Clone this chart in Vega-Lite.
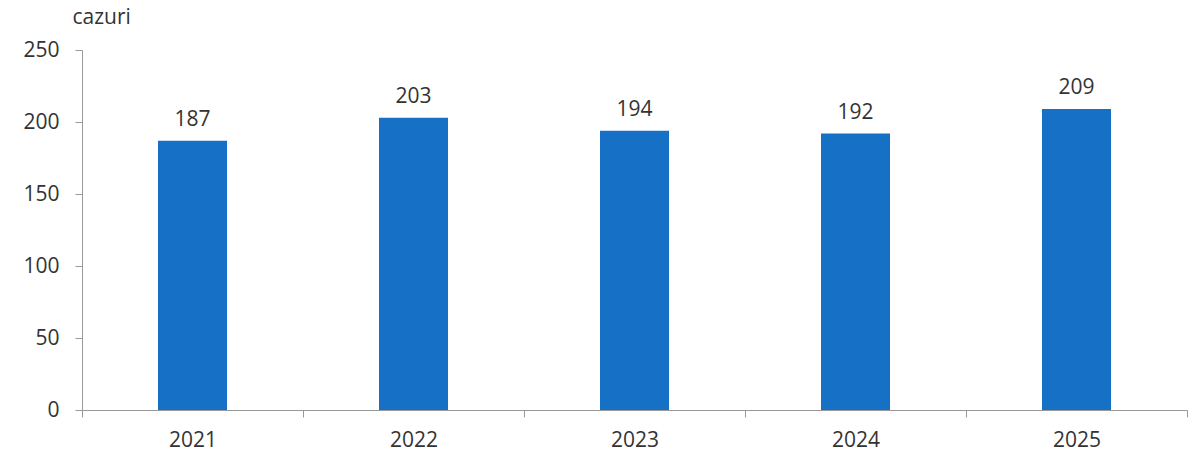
{
  "$schema": "https://vega.github.io/schema/vega-lite/v6.json",
  "width": 1105,
  "height": 360,
  "autosize": {"type": "none"},
  "padding": {"left": 82, "top": 50, "right": 13, "bottom": 61},
  "background": "white",
  "config": {
    "view": {"stroke": null},
    "font": "Open Sans",
    "axis": {"labelFont": "Open Sans", "titleFont": "Open Sans"}
  },
  "data": {
    "values": [
      {"year": "2021", "cazuri": 187},
      {"year": "2022", "cazuri": 203},
      {"year": "2023", "cazuri": 194},
      {"year": "2024", "cazuri": 192},
      {"year": "2025", "cazuri": 209}
    ]
  },
  "encoding": {
    "x": {
      "field": "year",
      "type": "nominal",
      "scale": {"paddingInner": 0, "paddingOuter": 0},
      "axis": {
        "title": null,
        "labelAngle": 0,
        "tickBand": "extent",
        "tickSize": 7,
        "tickColor": "#999999",
        "domainColor": "#999999",
        "labelFontSize": 21,
        "labelColor": "#333333",
        "labelPadding": 12
      }
    },
    "y": {
      "field": "cazuri",
      "type": "quantitative",
      "scale": {"domain": [0, 250]},
      "axis": {
        "values": [0, 50, 100, 150, 200, 250],
        "grid": false,
        "title": "cazuri",
        "titleAngle": 0,
        "titleAlign": "left",
        "titleBaseline": "alphabetic",
        "titleX": -10,
        "titleY": -27,
        "titleFontSize": 21,
        "titleFontWeight": "normal",
        "titleColor": "#333333",
        "tickSize": 7,
        "tickColor": "#999999",
        "domainColor": "#999999",
        "labelFontSize": 21,
        "labelColor": "#333333",
        "labelPadding": 16
      }
    }
  },
  "layer": [
    {"mark": {"type": "bar", "size": 69, "color": "#1570c6"}},
    {
      "mark": {"type": "text", "baseline": "alphabetic", "dy": -15, "fontSize": 21, "color": "#333333"},
      "encoding": {"text": {"field": "cazuri", "type": "quantitative"}}
    }
  ]
}
